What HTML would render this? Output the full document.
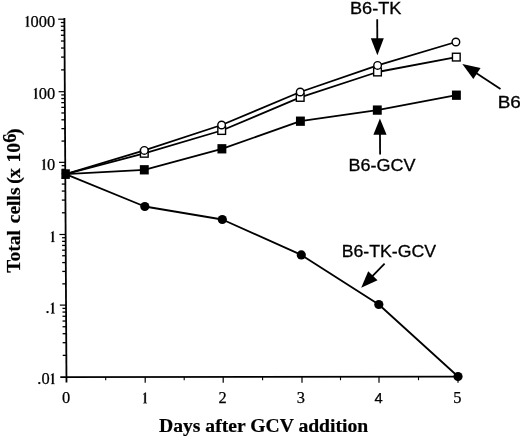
<!DOCTYPE html>
<html><head><meta charset="utf-8"><title>chart</title>
<style>html,body{margin:0;padding:0;background:#fff;}body{width:520px;height:437px;overflow:hidden;}svg{display:block;filter:grayscale(1) blur(0.35px);}text{fill:#000;}.t{stroke:#000;stroke-width:0.25px;}</style></head><body>
<svg width="520" height="437" viewBox="0 0 520 437">
<rect width="520" height="437" fill="#fff"/>
<g stroke="#000" fill="none">
<line x1="64.39" y1="18" x2="66.48" y2="382.6" stroke-width="1.8"/>
<line x1="60.3" y1="377.11" x2="458" y2="376.60" stroke-width="1.6"/>
<line x1="58.20" y1="19.20" x2="64.40" y2="19.20" stroke-width="1.2"/>
<line x1="61.09" y1="69.88" x2="64.69" y2="69.88" stroke-width="1.3"/>
<line x1="61.02" y1="57.11" x2="64.62" y2="57.11" stroke-width="1.3"/>
<line x1="60.97" y1="48.05" x2="64.57" y2="48.05" stroke-width="1.3"/>
<line x1="60.93" y1="41.02" x2="64.53" y2="41.02" stroke-width="1.3"/>
<line x1="60.89" y1="35.28" x2="64.49" y2="35.28" stroke-width="1.3"/>
<line x1="60.87" y1="30.43" x2="64.47" y2="30.43" stroke-width="1.3"/>
<line x1="60.84" y1="26.23" x2="64.44" y2="26.23" stroke-width="1.3"/>
<line x1="60.82" y1="22.52" x2="64.42" y2="22.52" stroke-width="1.3"/>
<line x1="58.62" y1="91.70" x2="64.82" y2="91.70" stroke-width="1.2"/>
<line x1="61.50" y1="141.08" x2="65.10" y2="141.08" stroke-width="1.3"/>
<line x1="61.43" y1="128.64" x2="65.03" y2="128.64" stroke-width="1.3"/>
<line x1="61.38" y1="119.81" x2="64.98" y2="119.81" stroke-width="1.3"/>
<line x1="61.34" y1="112.97" x2="64.94" y2="112.97" stroke-width="1.3"/>
<line x1="61.31" y1="107.37" x2="64.91" y2="107.37" stroke-width="1.3"/>
<line x1="61.28" y1="102.64" x2="64.88" y2="102.64" stroke-width="1.3"/>
<line x1="61.26" y1="98.55" x2="64.86" y2="98.55" stroke-width="1.3"/>
<line x1="61.23" y1="94.93" x2="64.83" y2="94.93" stroke-width="1.3"/>
<line x1="59.02" y1="162.35" x2="65.22" y2="162.35" stroke-width="1.2"/>
<line x1="61.91" y1="212.78" x2="65.51" y2="212.78" stroke-width="1.3"/>
<line x1="61.84" y1="200.08" x2="65.44" y2="200.08" stroke-width="1.3"/>
<line x1="61.79" y1="191.06" x2="65.39" y2="191.06" stroke-width="1.3"/>
<line x1="61.75" y1="184.07" x2="65.35" y2="184.07" stroke-width="1.3"/>
<line x1="61.71" y1="178.36" x2="65.31" y2="178.36" stroke-width="1.3"/>
<line x1="61.68" y1="173.53" x2="65.28" y2="173.53" stroke-width="1.3"/>
<line x1="61.66" y1="169.34" x2="65.26" y2="169.34" stroke-width="1.3"/>
<line x1="61.64" y1="165.65" x2="65.24" y2="165.65" stroke-width="1.3"/>
<line x1="59.43" y1="234.50" x2="65.63" y2="234.50" stroke-width="1.2"/>
<line x1="62.32" y1="283.85" x2="65.92" y2="283.85" stroke-width="1.3"/>
<line x1="62.25" y1="271.42" x2="65.85" y2="271.42" stroke-width="1.3"/>
<line x1="62.19" y1="262.59" x2="65.79" y2="262.59" stroke-width="1.3"/>
<line x1="62.16" y1="255.75" x2="65.76" y2="255.75" stroke-width="1.3"/>
<line x1="62.12" y1="250.16" x2="65.72" y2="250.16" stroke-width="1.3"/>
<line x1="62.10" y1="245.44" x2="65.70" y2="245.44" stroke-width="1.3"/>
<line x1="62.07" y1="241.34" x2="65.67" y2="241.34" stroke-width="1.3"/>
<line x1="62.05" y1="237.73" x2="65.65" y2="237.73" stroke-width="1.3"/>
<line x1="59.84" y1="305.10" x2="66.04" y2="305.10" stroke-width="1.2"/>
<line x1="62.73" y1="355.36" x2="66.33" y2="355.36" stroke-width="1.3"/>
<line x1="62.65" y1="342.69" x2="66.25" y2="342.69" stroke-width="1.3"/>
<line x1="62.60" y1="333.71" x2="66.20" y2="333.71" stroke-width="1.3"/>
<line x1="62.56" y1="326.74" x2="66.16" y2="326.74" stroke-width="1.3"/>
<line x1="62.53" y1="321.05" x2="66.13" y2="321.05" stroke-width="1.3"/>
<line x1="62.50" y1="316.24" x2="66.10" y2="316.24" stroke-width="1.3"/>
<line x1="62.48" y1="312.07" x2="66.08" y2="312.07" stroke-width="1.3"/>
<line x1="62.46" y1="308.39" x2="66.06" y2="308.39" stroke-width="1.3"/>
<line x1="105.70" y1="377.05" x2="105.70" y2="380.2" stroke-width="1.1"/>
<line x1="145.20" y1="377.00" x2="145.20" y2="382.7" stroke-width="1.2"/>
<line x1="184.20" y1="376.95" x2="184.20" y2="380.2" stroke-width="1.1"/>
<line x1="223.20" y1="376.90" x2="223.20" y2="382.7" stroke-width="1.2"/>
<line x1="262.60" y1="376.85" x2="262.60" y2="380.2" stroke-width="1.1"/>
<line x1="302.00" y1="376.80" x2="302.00" y2="382.7" stroke-width="1.2"/>
<line x1="340.50" y1="376.75" x2="340.50" y2="380.2" stroke-width="1.1"/>
<line x1="379.00" y1="376.70" x2="379.00" y2="382.7" stroke-width="1.2"/>
<line x1="418.50" y1="376.65" x2="418.50" y2="380.2" stroke-width="1.1"/>
<line x1="458.00" y1="376.60" x2="458.00" y2="382.7" stroke-width="1.2"/>
</g>
<polyline fill="none" stroke="#000" stroke-width="1.8" stroke-linejoin="round" points="65.6,174.1 144.3,169.8 221.9,148.8 300.4,121.2 377.3,110.1 456.4,95.2"/>
<polyline fill="none" stroke="#000" stroke-width="1.8" stroke-linejoin="round" points="65.6,174.1 144.8,206.5 222.3,219.5 301.3,254.9 378.8,304.5 458.0,376.5"/>
<polyline fill="none" stroke="#000" stroke-width="1.8" stroke-linejoin="round" points="65.6,174.1 144.3,153.3 221.7,130.5 300.2,97.4 377.5,72.0 456.3,57.1"/>
<polyline fill="none" stroke="#000" stroke-width="1.8" stroke-linejoin="round" points="65.6,174.1 144.3,150.4 221.6,125.0 300.2,92.0 377.6,65.4 455.9,42.0"/>
<rect x="139.85" y="165.15" width="8.9" height="9.3" fill="#000"/>
<rect x="217.45" y="144.15" width="8.9" height="9.3" fill="#000"/>
<rect x="295.95" y="116.55" width="8.9" height="9.3" fill="#000"/>
<rect x="372.85" y="105.45" width="8.9" height="9.3" fill="#000"/>
<rect x="451.95" y="90.55" width="8.9" height="9.3" fill="#000"/>
<circle cx="144.80" cy="206.50" r="4.6" fill="#000"/>
<circle cx="222.30" cy="219.50" r="4.6" fill="#000"/>
<circle cx="301.30" cy="254.90" r="4.6" fill="#000"/>
<circle cx="378.80" cy="304.50" r="4.6" fill="#000"/>
<circle cx="458.00" cy="376.50" r="4.6" fill="#000"/>
<rect x="140.45" y="149.45" width="7.7" height="7.7" fill="#fff" stroke="#000" stroke-width="1.4"/>
<rect x="217.85" y="126.65" width="7.7" height="7.7" fill="#fff" stroke="#000" stroke-width="1.4"/>
<rect x="296.35" y="93.55" width="7.7" height="7.7" fill="#fff" stroke="#000" stroke-width="1.4"/>
<rect x="373.65" y="68.15" width="7.7" height="7.7" fill="#fff" stroke="#000" stroke-width="1.4"/>
<rect x="452.45" y="53.25" width="7.7" height="7.7" fill="#fff" stroke="#000" stroke-width="1.4"/>
<circle cx="144.30" cy="150.40" r="3.8" fill="#fff" stroke="#000" stroke-width="1.4"/>
<circle cx="221.60" cy="125.00" r="3.8" fill="#fff" stroke="#000" stroke-width="1.4"/>
<circle cx="300.20" cy="92.00" r="3.8" fill="#fff" stroke="#000" stroke-width="1.4"/>
<circle cx="377.60" cy="65.40" r="3.8" fill="#fff" stroke="#000" stroke-width="1.4"/>
<circle cx="455.90" cy="42.00" r="3.8" fill="#fff" stroke="#000" stroke-width="1.4"/>
<rect x="61.35" y="169.30" width="8.5" height="9.6" fill="#000"/>
<line x1="377.20" y1="19.20" x2="377.31" y2="39.20" stroke="#000" stroke-width="1.8"/>
<polygon fill="#000" points="377.40,55.20 370.81,38.24 383.81,38.16"/>
<line x1="380.10" y1="154.50" x2="379.98" y2="133.80" stroke="#000" stroke-width="1.8"/>
<polygon fill="#000" points="379.90,118.60 386.59,134.76 373.39,134.84"/>
<line x1="500.50" y1="88.90" x2="476.11" y2="72.94" stroke="#000" stroke-width="1.8"/>
<polygon fill="#000" points="462.30,63.90 480.56,67.96 473.33,79.01"/>
<line x1="384.60" y1="263.60" x2="372.18" y2="276.44" stroke="#000" stroke-width="1.8"/>
<polygon fill="#000" points="361.20,287.80 368.21,271.20 377.55,280.24"/>
<path d="M495 70L620 45V0H175V45L300 70V1150L150 1090V1135L445 1352H495Z" transform="translate(24.36,26.80) scale(0.008008,-0.008008)" fill="#000" stroke="#000" stroke-width="28"/>
<text x="30.52" y="26.80" font-family="Liberation Serif, serif" class="t" font-size="16.4">0</text>
<text x="38.72" y="26.80" font-family="Liberation Serif, serif" class="t" font-size="16.4">0</text>
<text x="46.92" y="26.80" font-family="Liberation Serif, serif" class="t" font-size="16.4">0</text>
<path d="M495 70L620 45V0H175V45L300 70V1150L150 1090V1135L445 1352H495Z" transform="translate(32.66,98.80) scale(0.008008,-0.008008)" fill="#000" stroke="#000" stroke-width="28"/>
<text x="38.82" y="98.80" font-family="Liberation Serif, serif" class="t" font-size="16.4">0</text>
<text x="47.02" y="98.80" font-family="Liberation Serif, serif" class="t" font-size="16.4">0</text>
<path d="M495 70L620 45V0H175V45L300 70V1150L150 1090V1135L445 1352H495Z" transform="translate(40.86,169.80) scale(0.008008,-0.008008)" fill="#000" stroke="#000" stroke-width="28"/>
<text x="47.02" y="169.80" font-family="Liberation Serif, serif" class="t" font-size="16.4">0</text>
<path d="M495 70L620 45V0H175V45L300 70V1150L150 1090V1135L445 1352H495Z" transform="translate(49.64,242.00) scale(0.008008,-0.008008)" fill="#000" stroke="#000" stroke-width="28"/>
<text x="45.54" y="313.40" font-family="Liberation Serif, serif" class="t" font-size="16.4">.</text>
<path d="M495 70L620 45V0H175V45L300 70V1150L150 1090V1135L445 1352H495Z" transform="translate(49.64,313.40) scale(0.008008,-0.008008)" fill="#000" stroke="#000" stroke-width="28"/>
<text x="37.34" y="384.10" font-family="Liberation Serif, serif" class="t" font-size="16.4">.</text>
<text x="41.44" y="384.10" font-family="Liberation Serif, serif" class="t" font-size="16.4">0</text>
<path d="M495 70L620 45V0H175V45L300 70V1150L150 1090V1135L445 1352H495Z" transform="translate(49.64,384.10) scale(0.008008,-0.008008)" fill="#000" stroke="#000" stroke-width="28"/>
<text x="66.00" y="403.4" font-family="Liberation Serif, serif" class="t" font-size="16.4" text-anchor="middle">0</text>
<path d="M495 70L620 45V0H175V45L300 70V1150L150 1090V1135L445 1352H495Z" transform="translate(141.92,403.30) scale(0.008008,-0.008008)" fill="#000" stroke="#000" stroke-width="28"/>
<text x="222.70" y="403.4" font-family="Liberation Serif, serif" class="t" font-size="16.4" text-anchor="middle">2</text>
<text x="300.90" y="403.4" font-family="Liberation Serif, serif" class="t" font-size="16.4" text-anchor="middle">3</text>
<text x="378.60" y="403.3" font-family="Liberation Sans, sans-serif" font-size="14.8" text-anchor="middle" stroke="#000" stroke-width="0.25">4</text>
<text x="457.40" y="403.4" font-family="Liberation Serif, serif" class="t" font-size="16.4" text-anchor="middle">5</text>
<text x="350.0" y="13.8" font-family="Liberation Sans, sans-serif" font-size="17.2" textLength="51.5" lengthAdjust="spacingAndGlyphs" stroke="#000" stroke-width="0.3">B6-TK</text>
<text x="497.7" y="107.5" font-family="Liberation Sans, sans-serif" font-size="17.2" textLength="23.2" lengthAdjust="spacingAndGlyphs" stroke="#000" stroke-width="0.3">B6</text>
<text x="348.6" y="171.4" font-family="Liberation Sans, sans-serif" font-size="17.2" textLength="67.0" lengthAdjust="spacingAndGlyphs" stroke="#000" stroke-width="0.3">B6-GCV</text>
<text x="341.7" y="256.8" font-family="Liberation Sans, sans-serif" font-size="17.2" textLength="94.3" lengthAdjust="spacingAndGlyphs" stroke="#000" stroke-width="0.3">B6-TK-GCV</text>
<text x="159.0" y="431.5" font-family="Liberation Serif, serif" font-weight="bold" stroke="#000" stroke-width="0.2" font-size="18.4" textLength="209.2" lengthAdjust="spacingAndGlyphs">Days after GCV addition</text>
<g transform="translate(19.7,273.7) rotate(-90)"><text y="0" font-family="Liberation Serif, serif" font-weight="bold" stroke="#000" stroke-width="0.2" font-size="19.6"><tspan x="0.9">Total</tspan><tspan x="50.4">cells</tspan><tspan x="89.9">(</tspan><tspan x="95.6">x</tspan><tspan x="111.1">10</tspan><tspan x="131.0" dy="-3.8" font-size="18.6">6</tspan><tspan x="138.8" dy="3.8">)</tspan></text></g>
</svg></body></html>
